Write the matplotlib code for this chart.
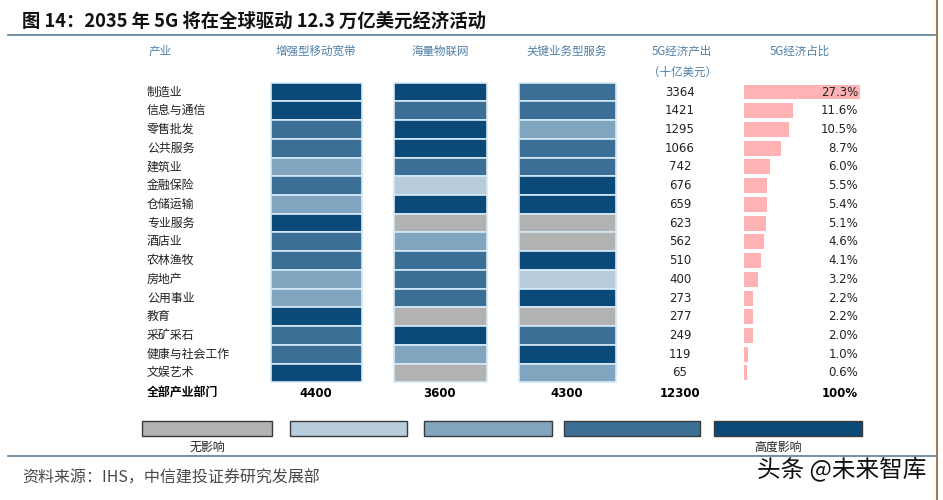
import matplotlib.pyplot as plt

industries = ['制造业', '信息与通信', '零售批发', '公共服务', '建筑业', '金融保险', '仓储运输',
              '专业服务', '酒店业', '农林渔牧', '房地产', '公用事业', '教育', '采矿采石',
              '健康与社会工作', '文娱艺术']
embb = [4, 4, 3, 3, 2, 3, 2, 4, 3, 3, 2, 2, 4, 3, 3, 4]
miot = [4, 3, 4, 4, 3, 1, 4, 0, 2, 3, 3, 3, 0, 4, 2, 0]
critical = [3, 3, 2, 3, 3, 4, 4, 0, 0, 4, 1, 4, 0, 3, 4, 2]
output = [3364, 1421, 1295, 1066, 742, 676, 659, 623, 562, 510, 400, 273, 277, 249, 119, 65]
share = [27.3, 11.6, 10.5, 8.7, 6.0, 5.5, 5.4, 5.1, 4.6, 4.1, 3.2, 2.2, 2.2, 2.0, 1.0, 0.6]
totals = ['4400', '3600', '4300', '12300', '100%']
headers = ['产业', '增强型移动宽带', '海量物联网', '关键业务型服务', '5G经济产出', '5G经济占比']
legend_labels = ['无影响', '高度影响']

level_colors = ['#b2b2b2', '#b7cddb', '#81a5bf', '#3b6f96', '#0b4a78']

cjk = ['Noto Sans CJK SC', 'DejaVu Sans']
num = ['DejaVu Sans']
plt.rcParams['font.family'] = cjk

fig = plt.figure(figsize=(9.43, 5), dpi=100)
ax = fig.add_axes([0, 0, 1, 1])
ax.set_xlim(0, 943)
ax.set_ylim(500, 0)
ax.axis('off')

# title and frame lines
ax.text(22, 21, '图 14：2035 年 5G 将在全球驱动 12.3 万亿美元经济活动', fontsize=13.2,
        fontweight='bold', va='center', ha='left', color='#111111')
ax.plot([8, 935], [35, 35], color='#5b7d93', lw=1.2)
ax.plot([8, 935], [456, 456], color='#5b7d93', lw=1.2)
ax.plot([937, 937], [0, 500], color='#9c7f55', lw=1.5)

# header
head_x = [160, 316, 440, 567, 682, 800]
hc = '#4f7fa8'
for hx, h in zip(head_x, headers):
    ax.text(hx, 51, h, fontsize=8.3, color=hc, ha='center', va='center')
ax.text(682, 72, '（十亿美元）', fontsize=8.3, color=hc, ha='center', va='center')

# rows
y0 = 92
dy = 18.73
ys = [y0 + i * dy for i in range(len(industries))]
cols = [(271, 91, embb), (394, 93, miot), (519, 97, critical)]
for left, w, levels in cols:
    ax.barh(ys, [w] * len(ys), left=left, height=dy,
            color=[level_colors[l] for l in levels], edgecolor='#d6eaf7', linewidth=1.2)

for y, name, o, s in zip(ys, industries, output, share):
    ax.text(147, y, name, fontsize=8.6, ha='left', va='center', color='#222222')
    ax.text(680, y, str(o), fontsize=8.5, ha='center', va='center', family=num, color='#222222')
    ax.text(858, y, f'{s:.1f}%', fontsize=8.5, ha='right', va='center', family=num, color='#222222')

ax.barh(ys, [s * 4.25 for s in share], left=744, height=dy * 0.8, color='#ffb3b4')

yt = y0 + len(industries) * dy + 1.5
ax.text(147, yt, '全部产业部门', fontsize=8.6, fontweight='bold', ha='left', va='center')
for tx, t, ha in zip([316, 440, 567, 680, 858], totals, ['center'] * 4 + ['right']):
    ax.text(tx, yt, t, fontsize=8.5, fontweight='bold', ha=ha, va='center', family=num)

# legend scale
lg_left = [142, 290, 424, 564, 714]
lg_w = [130, 117, 128, 136, 148]
ax.barh([428] * 5, lg_w, left=lg_left, height=15, color=level_colors,
        edgecolor='#3a3a3a', linewidth=1)
ax.text(207, 447, legend_labels[0], fontsize=8.6, ha='center', va='center', color='#222222')
ax.text(778, 447, legend_labels[1], fontsize=8.6, ha='center', va='center', color='#222222')

# source and watermark
ax.text(22, 478, '资料来源：IHS，中信建投证券研究发展部', fontsize=11.5, style='italic',
        ha='left', va='center', color='#4a4a4a')
ax.text(842, 469, '头条 @未来智库', fontsize=17, ha='center', va='center', color='#111111')

fig.savefig('out.png', dpi=100)
